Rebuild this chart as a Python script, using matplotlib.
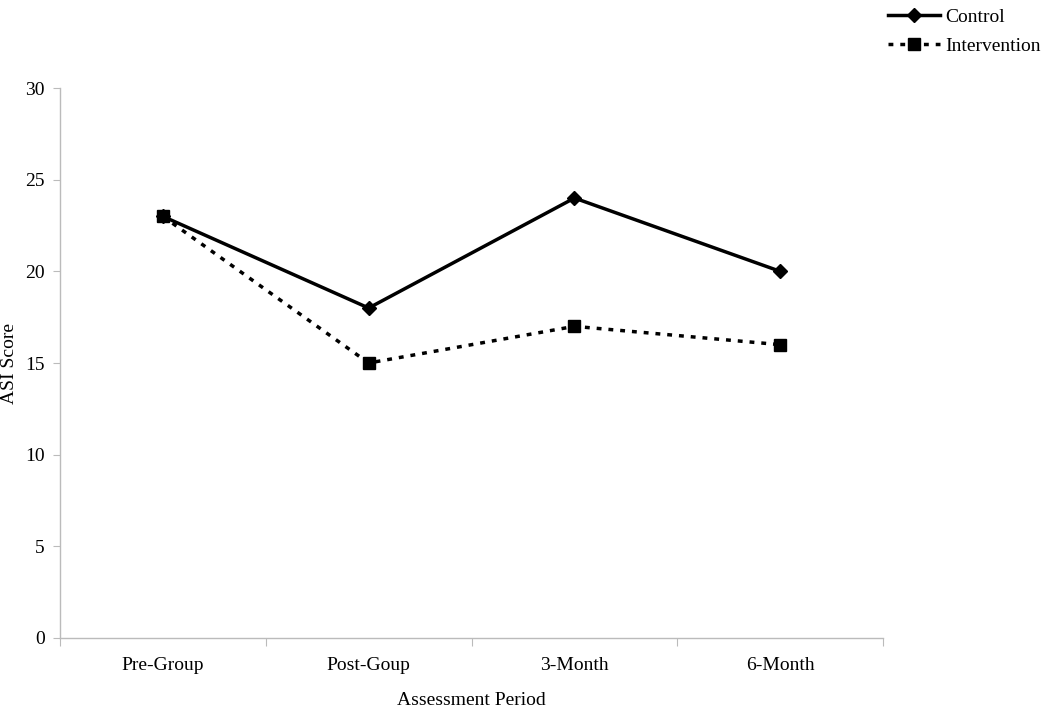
import matplotlib
matplotlib.use("Agg")
import matplotlib.pyplot as plt
from matplotlib.lines import Line2D
import numpy as np

periods = ['Pre-Group', 'Post-Goup', '3-Month', '6-Month']
control = [23, 18, 24, 20]
intervention = [23, 15, 17, 16]

plt.rcParams['font.family'] = ['Liberation Serif', 'DejaVu Serif']

fig = plt.figure(figsize=(10.5, 7.16), dpi=100)
ax = fig.add_axes([0.0571, 0.109, 0.784, 0.768])

dots = (0, (1.4, 2.0))
x = np.arange(len(periods))
ax.plot(x, intervention, color='black', linestyle=dots, linewidth=2.5,
        marker='s', markersize=9, label='Intervention', zorder=3)
ax.plot(x, control, color='black', linestyle='-', linewidth=2.5,
        marker='D', markersize=7, label='Control', zorder=4)

ax.set_xlim(-0.5, len(periods) - 0.5)
ax.set_ylim(0, 30)
ax.set_yticks(range(0, 31, 5))
ax.set_xticks(np.arange(-0.5, len(periods), 1.0))
ax.set_xticklabels([])
ax.set_xticks(x, minor=True)
ax.set_xticklabels(periods, minor=True)
ax.tick_params(axis='x', which='major', length=6, color='#bbbbbb', direction='out')
ax.tick_params(axis='x', which='minor', length=0, pad=14, labelsize=14)
ax.tick_params(axis='y', length=5, color='#bbbbbb', labelsize=14, pad=6)

for side in ['top', 'right']:
    ax.spines[side].set_visible(False)
for side in ['left', 'bottom']:
    ax.spines[side].set_color('#bbbbbb')
    ax.spines[side].set_linewidth(1)

ax.set_xlabel('Assessment Period', fontsize=14, labelpad=13)
ax.set_ylabel('ASI Score', fontsize=14, labelpad=5)

handles = [
    Line2D([], [], color='black', linestyle='-', linewidth=2.5, marker='D', markersize=7),
    Line2D([], [], color='black', linestyle=dots, linewidth=2.5, marker='s', markersize=9),
]
fig.legend(handles, ['Control', 'Intervention'], loc='upper left',
           bbox_to_anchor=(0.8457, 0.988), frameon=False, fontsize=14,
           borderpad=0, borderaxespad=0,
           handlelength=2.7, handletextpad=0.25, labelspacing=0.55)

fig.savefig('out.png', dpi=100)
